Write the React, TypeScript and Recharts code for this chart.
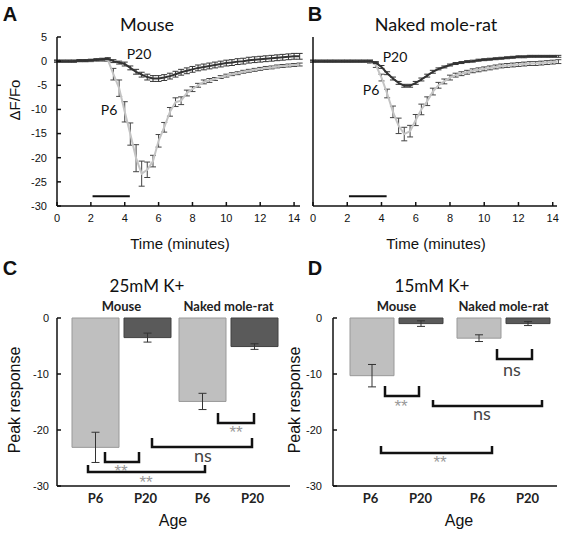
import {
  LineChart,
  Line,
  BarChart,
  Bar,
  XAxis,
  YAxis,
  ErrorBar,
  ReferenceLine,
} from "recharts";

// time points (minutes) of the calcium imaging traces
const minutes = [
  0, 0.33, 0.67, 1, 1.33, 1.67, 2, 2.33, 2.67, 3, 3.33, 3.67, 4, 4.33, 4.67, 5,
  5.33, 5.67, 6, 6.33, 6.67, 7, 7.33, 7.67, 8, 8.33, 8.67, 9, 9.33, 9.67, 10,
  10.33, 10.67, 11, 11.33, 11.67, 12, 12.33, 12.67, 13, 13.33, 13.67, 14, 14.33,
];

const mouseP6 = [
  0, 0, 0, 0, 0.1, 0.1, 0.1, 0.2, 0.2, 0.3, -2.7, -5.6, -10.5, -15.1, -20.1,
  -23.3, -22.5, -20.7, -16.5, -13.7, -10.5, -8.5, -8.2, -6.6, -5.8, -5.0, -4.3,
  -4.0, -3.7, -3.3, -3.0, -2.7, -2.5, -2.2, -2.0, -1.8, -1.6, -1.4, -1.3, -1.1,
  -1.0, -0.9, -0.8, -0.7,
];
const mouseP6Err = [
  0.2, 0.2, 0.2, 0.2, 0.2, 0.2, 0.2, 0.2, 0.2, 0.3, 1.2, 1.7, 2.1, 2.3, 2.8,
  2.6, 1.6, 1.2, 1.3, 1.0, 0.9, 0.9, 0.8, 0.6, 0.5, 0.4, 0.4, 0.4, 0.3, 0.3,
  0.3, 0.3, 0.3, 0.3, 0.3, 0.3, 0.3, 0.3, 0.3, 0.3, 0.3, 0.3, 0.3, 0.3,
];
const mouseP20 = [
  0, 0, 0, 0, 0.1, 0.1, 0.2, 0.3, 0.4, 0.5, 0.0, -0.3, -0.6, -1.4, -2.2, -2.8,
  -3.3, -3.6, -3.6, -3.4, -3.1, -2.7, -2.3, -2.0, -1.7, -1.4, -1.2, -1.0, -0.8,
  -0.6, -0.4, -0.3, -0.1, 0.0, 0.2, 0.3, 0.4, 0.5, 0.6, 0.7, 0.8, 0.9, 1.0, 1.0,
];
const mouseP20Err = [
  0.2, 0.2, 0.2, 0.2, 0.2, 0.2, 0.2, 0.2, 0.2, 0.2, 0.3, 0.3, 0.4, 0.4, 0.5,
  0.5, 0.6, 0.6, 0.6, 0.6, 0.6, 0.6, 0.6, 0.6, 0.6, 0.6, 0.6, 0.6, 0.6, 0.6,
  0.6, 0.6, 0.6, 0.6, 0.6, 0.6, 0.6, 0.6, 0.6, 0.6, 0.6, 0.6, 0.6, 0.6,
];

const nmrP6 = [
  0, 0, 0, 0, 0, 0, 0, 0, 0, 0, -0.1, -0.8, -3.4, -6.7, -10.5, -13.4, -15.1,
  -14.5, -12.2, -10.0, -8.3, -6.3, -5.0, -4.2, -3.4, -2.9, -2.6, -2.3, -2.0,
  -1.8, -1.6, -1.4, -1.2, -1.0, -0.9, -0.8, -0.7, -0.6, -0.5, -0.5, -0.4, -0.3,
  -0.2, -0.1,
];
const nmrP6Err = [
  0.2, 0.2, 0.2, 0.2, 0.2, 0.2, 0.2, 0.2, 0.2, 0.2, 0.3, 0.5, 0.7, 0.9, 1.2,
  1.6, 1.4, 1.2, 1.15, 1.1, 0.9, 0.7, 0.6, 0.5, 0.5, 0.4, 0.4, 0.4, 0.4, 0.4,
  0.4, 0.4, 0.4, 0.4, 0.4, 0.4, 0.4, 0.4, 0.4, 0.4, 0.4, 0.4, 0.4, 0.4,
];
const nmrP20 = [
  0, 0, 0, 0, 0, 0, 0, 0, 0, 0, 0, -0.3, -1.2, -2.5, -3.6, -4.5, -5.1, -5.1,
  -4.5, -3.8, -3.0, -2.2, -1.6, -1.2, -0.8, -0.5, -0.3, -0.1, 0.0, 0.2, 0.3,
  0.4, 0.5, 0.6, 0.7, 0.8, 0.9, 0.9, 1.0, 1.0, 1.0, 1.0, 1.0, 1.0,
];
const nmrP20Err = [
  0.2, 0.2, 0.2, 0.2, 0.2, 0.2, 0.2, 0.2, 0.2, 0.2, 0.2, 0.2, 0.3, 0.3, 0.3,
  0.3, 0.3, 0.3, 0.3, 0.3, 0.3, 0.3, 0.2, 0.2, 0.2, 0.2, 0.2, 0.2, 0.2, 0.2,
  0.2, 0.2, 0.2, 0.2, 0.2, 0.2, 0.2, 0.2, 0.2, 0.2, 0.2, 0.2, 0.2, 0.2,
];

const timeTicks = [0, 2, 4, 6, 8, 10, 12, 14];
const dffTicks = [-30, -25, -20, -15, -10, -5, 0, 5];
const stimulus = [2.1, 4.3];
const stimulusLevel = -28;

// peak responses
const species = ["Mouse", "Naked mole-rat"];
const ages = ["P6", "P20"];
const peakTicks = [0, -10, -20, -30];
const k25P6 = [-23.1, -14.9];
const k25P6Err = [2.7, 1.45];
const k25P20 = [-3.5, -5.1];
const k25P20Err = [0.8, 0.5];
const k15P6 = [-10.3, -3.6];
const k15P6Err = [2.0, 0.6];
const k15P20 = [-1.0, -1.0];
const k15P20Err = [0.5, 0.35];

const sans = "'Liberation Sans', Arial, sans-serif";
const humanist = "Lato, 'Open Sans', sans-serif";

function Txt({
  x,
  y,
  size,
  children,
  font = sans,
  weight = 400,
  color = "#111",
  rotate = 0,
}: any) {
  return (
    <div
      style={{
        position: "absolute",
        left: x,
        top: y,
        transform: `translate(-50%, -50%) rotate(${rotate}deg)`,
        fontSize: size,
        fontFamily: font,
        fontWeight: weight,
        color,
        whiteSpace: "nowrap",
        lineHeight: 1,
      }}
    >
      {children}
    </div>
  );
}

function TraceChart({ p6, p6Err, p20, p20Err, xMax, showYLabels, margin }: any) {
  const rows = minutes.map((t, i) => ({
    t,
    p6: p6[i],
    p6Err: p6Err[i],
    p20: p20[i],
    p20Err: p20Err[i],
  }));
  return (
    <LineChart width={showYLabels ? 310 : 300} height={260} data={rows} margin={margin}>
      <XAxis
        type="number"
        dataKey="t"
        domain={[0, xMax]}
        ticks={timeTicks}
        interval={0}
        allowDataOverflow
        height={20}
        tickSize={-4}
        tickMargin={12}
        stroke="#111"
        strokeWidth={1.5}
        tick={{ fontSize: 11, fill: "#111", fontFamily: sans }}
      />
      <YAxis
        type="number"
        domain={[-30, 5]}
        ticks={dffTicks}
        interval={0}
        width={27}
        tickSize={-4}
        tickMargin={14}
        stroke="#111"
        strokeWidth={1.5}
        tick={showYLabels ? { fontSize: 11, fill: "#111", fontFamily: sans } : false}
      />
      <ReferenceLine
        segment={[
          { x: stimulus[0], y: stimulusLevel },
          { x: stimulus[1], y: stimulusLevel },
        ]}
        stroke="#111"
        strokeWidth={2}
      />
      <Line
        type="linear"
        dataKey="p6"
        stroke="#c4c4c4"
        strokeWidth={2}
        dot={false}
        isAnimationActive={false}
      >
        <ErrorBar dataKey="p6Err" width={3} stroke="#444" strokeWidth={1} direction="y" />
      </Line>
      <Line
        type="linear"
        dataKey="p20"
        stroke="#333"
        strokeWidth={2}
        dot={false}
        isAnimationActive={false}
      >
        <ErrorBar dataKey="p20Err" width={3} stroke="#333" strokeWidth={1} direction="y" />
      </Line>
    </LineChart>
  );
}

function AgeTick({ x, y }: any) {
  return (
    <g>
      <text x={x - 26} y={y + 17} textAnchor="middle" fontSize={13} fontWeight={700} fontFamily={humanist} fill="#222">
        {ages[0]}
      </text>
      <text x={x + 24} y={y + 17} textAnchor="middle" fontSize={13} fontWeight={700} fontFamily={humanist} fill="#222">
        {ages[1]}
      </text>
    </g>
  );
}

function PeakChart({ p6, p6Err, p20, p20Err, width, margin, padding, barSize, tickMargin }: any) {
  const rows = species.map((s, i) => ({
    species: s,
    p6: p6[i],
    p6Err: p6Err[i],
    p20: p20[i],
    p20Err: p20Err[i],
  }));
  return (
    <BarChart width={width} height={271} data={rows} margin={margin} barSize={barSize} barGap={5}>
      <XAxis
        xAxisId="top"
        orientation="top"
        dataKey="species"
        padding={padding}
        height={20}
        axisLine={false}
        tickLine={false}
        tickSize={0}
        tickMargin={7}
        tick={{ fontSize: 13, fontWeight: 700, fill: "#222", fontFamily: humanist }}
      />
      <XAxis
        dataKey="species"
        padding={padding}
        height={30}
        tickLine={false}
        tickSize={0}
        tickMargin={0}
        stroke="#111"
        strokeWidth={1.5}
        tick={(p: any) => <AgeTick {...p} />}
      />
      <YAxis
        type="number"
        domain={[-30, 0]}
        ticks={peakTicks}
        interval={0}
        width={27}
        tickSize={-4}
        tickMargin={tickMargin}
        stroke="#111"
        strokeWidth={1.5}
        tick={{ fontSize: 11, fill: "#111", fontFamily: sans }}
      />
      <Bar dataKey="p6" fill="#bfbfbf" stroke="#999" strokeWidth={1} isAnimationActive={false}>
        <ErrorBar dataKey="p6Err" width={4} stroke="#333" strokeWidth={1} direction="y" />
      </Bar>
      <Bar dataKey="p20" fill="#5a5a5a" stroke="#404040" strokeWidth={1} isAnimationActive={false}>
        <ErrorBar dataKey="p20Err" width={4} stroke="#333" strokeWidth={1} direction="y" />
      </Bar>
    </BarChart>
  );
}

// significance brackets: [x1, x2, top, bottom]
const brackets = [
  [105, 139, 452, 462],
  [88, 205, 465, 472],
  [152, 252, 438, 447],
  [218, 254, 413, 423],
  [385, 419, 386, 396],
  [433, 542, 400, 406],
  [381, 492, 446, 453],
  [497, 532, 349, 359],
];

export default function App() {
  return (
    <div style={{ position: "absolute", left: 0, top: 0, width: 563, height: 533, background: "#fff", overflow: "hidden" }}>
      <div style={{ position: "absolute", left: 0, top: 0 }}>
        <TraceChart
          p6={mouseP6}
          p6Err={mouseP6Err}
          p20={mouseP20}
          p20Err={mouseP20Err}
          xMax={14.35}
          showYLabels
          margin={{ top: 37, right: 10, bottom: 34, left: 30 }}
        />
      </div>
      <div style={{ position: "absolute", left: 263, top: 0 }}>
        <TraceChart
          p6={nmrP6}
          p6Err={nmrP6Err}
          p20={nmrP20}
          p20Err={nmrP20Err}
          xMax={14.25}
          showYLabels={false}
          margin={{ top: 37, right: 6, bottom: 34, left: 23 }}
        />
      </div>
      <div style={{ position: "absolute", left: 0, top: 262 }}>
        <PeakChart
          p6={k25P6}
          p6Err={k25P6Err}
          p20={k25P20}
          p20Err={k25P20Err}
          width={300}
          margin={{ top: 36, right: 10, bottom: 17, left: 30 }}
          padding={{ left: 11, right: 8 }}
          barSize={47}
          tickMargin={12}
        />
      </div>
      <div style={{ position: "absolute", left: 276, top: 262 }}>
        <PeakChart
          p6={k15P6}
          p6Err={k15P6Err}
          p20={k15P20}
          p20Err={k15P20Err}
          width={287}
          margin={{ top: 36, right: 6, bottom: 17, left: 30 }}
          padding={{ left: 10, right: 0 }}
          barSize={44}
          tickMargin={15}
        />
      </div>

      <svg width={563} height={533} style={{ position: "absolute", left: 0, top: 0, pointerEvents: "none" }}>
        {brackets.map(([x1, x2, t, b], i) => (
          <path
            key={i}
            d={`M${x1},${t} L${x1},${b} L${x2},${b} L${x2},${t}`}
            fill="none"
            stroke="#111"
            strokeWidth={2.5}
          />
        ))}
      </svg>

      {/* panel letters */}
      <Txt x={10} y={14} size={20} weight={700}>A</Txt>
      <Txt x={315} y={14} size={20} weight={700}>B</Txt>
      <Txt x={10} y={268} size={20} weight={700}>C</Txt>
      <Txt x={315} y={268} size={20} weight={700}>D</Txt>

      {/* trace panels */}
      <Txt x={147} y={24} size={18} font={humanist}>Mouse</Txt>
      <Txt x={436} y={24} size={18} font={humanist}>Naked mole-rat</Txt>
      <Txt x={14} y={100} size={15} rotate={-90}>ΔF/Fo</Txt>
      <Txt x={180} y={243} size={15}>Time (minutes)</Txt>
      <Txt x={436} y={243} size={15}>Time (minutes)</Txt>
      <Txt x={139} y={54} size={14} font={humanist}>P20</Txt>
      <Txt x={109} y={110} size={14} font={humanist}>P6</Txt>
      <Txt x={395} y={57} size={14} font={humanist}>P20</Txt>
      <Txt x={371} y={90} size={14} font={humanist}>P6</Txt>

      {/* peak panels */}
      <Txt x={147} y={285} size={17} font={humanist}>25mM K+</Txt>
      <Txt x={432} y={285} size={17} font={humanist}>15mM K+</Txt>
      <Txt x={15} y={400} size={16} rotate={-90}>Peak response</Txt>
      <Txt x={295} y={400} size={16} rotate={-90}>Peak response</Txt>
      <Txt x={173} y={521} size={16}>Age</Txt>
      <Txt x={459} y={521} size={16}>Age</Txt>

      <Txt x={121} y={471} size={17} color="#999">**</Txt>
      <Txt x={146} y={482} size={17} color="#999">**</Txt>
      <Txt x={203} y={455} size={18} font={humanist} color="#444">ns</Txt>
      <Txt x={236} y={432} size={17} color="#999">**</Txt>
      <Txt x={401} y={406} size={17} color="#999">**</Txt>
      <Txt x={482} y={413} size={18} font={humanist} color="#444">ns</Txt>
      <Txt x={440} y={462} size={17} color="#999">**</Txt>
      <Txt x={512} y={369} size={18} font={humanist} color="#444">ns</Txt>
    </div>
  );
}
